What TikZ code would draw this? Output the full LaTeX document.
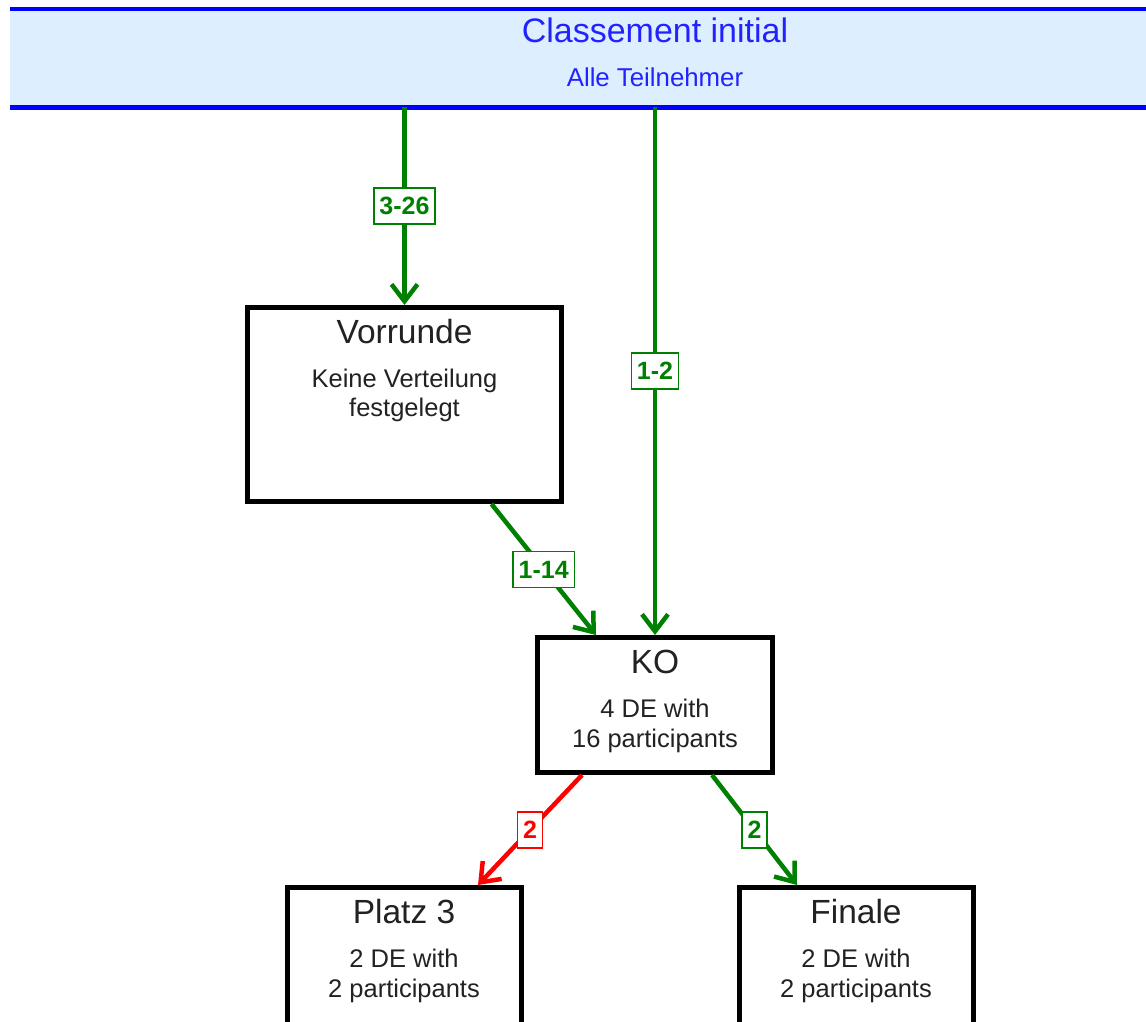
\documentclass[tikz,border=0pt]{standalone}
\usepackage{fontspec}
\setmainfont{Liberation Sans}
\usetikzlibrary{arrows.meta,calc}
\definecolor{dgreen}{RGB}{0,128,0}
\definecolor{barfill}{RGB}{221,238,255}
\definecolor{bartext}{RGB}{34,34,255}
\definecolor{txt}{RGB}{34,34,34}
\begin{document}
\begin{tikzpicture}[x=1pt,y=-1pt,
  box/.style={draw=black, line width=5pt, fill=white, rectangle, inner sep=0pt},
  ttl/.style={anchor=base, font=\fontsize{33.5}{38}\selectfont, text=txt, inner sep=0pt},
  bdy/.style={anchor=base, font=\fontsize{25.5}{30}\selectfont, text=txt, inner sep=0pt},
  arr/.style={line width=4.5pt, -{Straight Barb[length=17pt,width=26pt]}},
  lab/.style={fill=white, line width=1.5pt, font=\fontsize{25}{28}\bfseries\selectfont, minimum height=36pt, inner xsep=5.5pt, inner ysep=0pt},
  glab/.style={lab, draw=dgreen, text=dgreen},
  rlab/.style={lab, draw=red, text=red}
]
\fill[white] (0,0) rectangle (1146,1021);
\useasboundingbox (0,0) rectangle (1146,1021);

% top bar
\node[fill=barfill, minimum width=1150pt, minimum height=98pt, inner sep=0pt, anchor=north west] (bar) at (10,9) {};
\draw[blue, line width=4pt] (bar.north west) -- (bar.north east);
\draw[blue, line width=4.5pt] (bar.south west) -- (bar.south east);
\node[anchor=base, inner sep=0pt, text=bartext, font=\fontsize{34}{38}\selectfont] (bt1) at (655,42.7) {Classement initial};
\node[anchor=base, inner sep=0pt, text=bartext, font=\fontsize{25.8}{30}\selectfont] (bt2) at (655,86.7) {Alle Teilnehmer};

% boxes
\node[box, minimum width=314pt, minimum height=194pt] (vor) at (404.5,404.5) {};
\node[ttl] (vort) at (404.5,343) {Vorrunde};
\node[bdy] (vorb1) at (404.5,387) {Keine Verteilung};
\node[bdy] (vorb2) at (404.5,416.5) {festgelegt};

\node[box, minimum width=235pt, minimum height=135pt] (ko) at (655,705) {};
\node[ttl] (kot) at (655,673) {KO};
\node[bdy] (kob1) at (655,717.7) {4 DE with};
\node[bdy] (kob2) at (655,747.7) {16 participants};

\node[box, minimum width=234pt, minimum height=140pt] (p3) at (404,957.5) {};
\node[ttl] (p3t) at (404,923) {Platz 3};
\node[bdy] (p3b1) at (404,967.7) {2 DE with};
\node[bdy] (p3b2) at (404,997.7) {2 participants};

\node[box, minimum width=234pt, minimum height=140pt] (fin) at (856,957.5) {};
\node[ttl] (fint) at (856,923) {Finale};
\node[bdy] (finb1) at (856,967.7) {2 DE with};
\node[bdy] (finb2) at (856,997.7) {2 participants};

% connectors
\draw[arr, dgreen] (bar.south -| vor.north) -- node[glab] (l1) {3-26} (vor.north);
\draw[arr, dgreen] (bar.south -| ko.north) -- node[glab] (l2) {1-2} (ko.north);
\draw[arr, dgreen] ([xshift=87pt]vor.south) -- node[glab] (l3) {1-14} ([xshift=-59pt]ko.north);
\draw[arr, red] ([xshift=-73pt]ko.south) -- node[rlab] (l4) {2} ([xshift=74pt]p3.north);
\draw[arr, dgreen] ([xshift=57pt]ko.south) -- node[glab] (l5) {2} ([xshift=-59pt]fin.north);
\end{tikzpicture}
\end{document}
